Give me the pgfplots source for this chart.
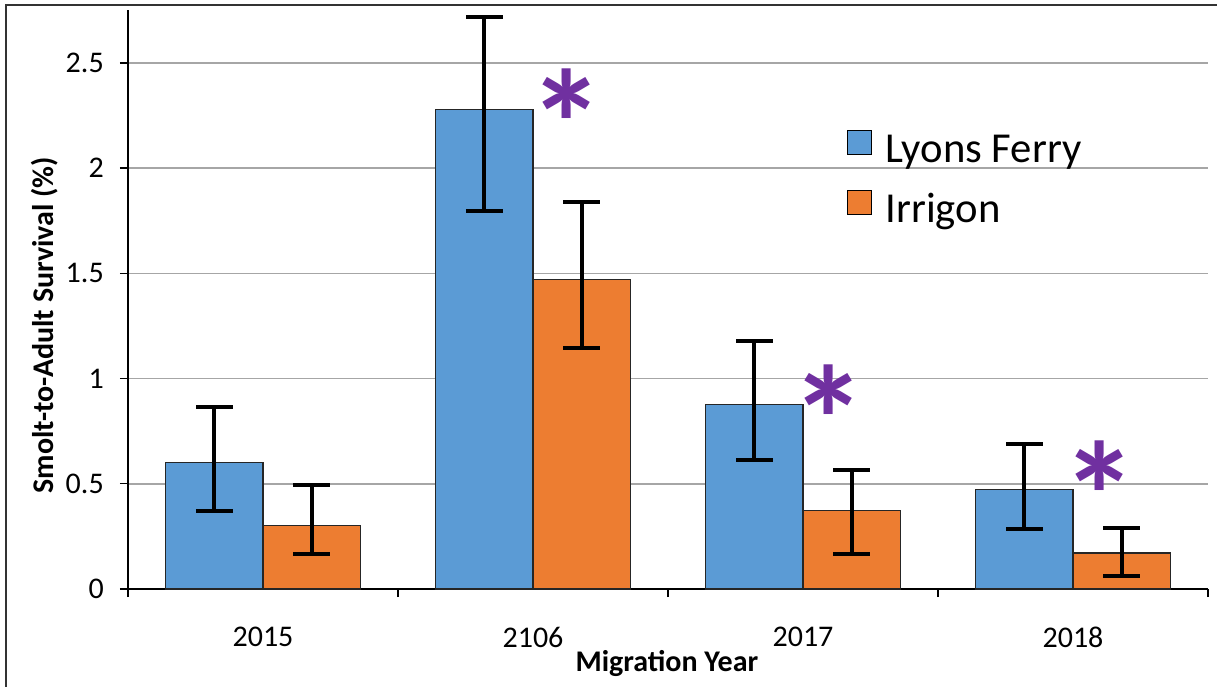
\documentclass[border=0pt]{standalone}
\usepackage{pgfplots}
\usepackage{pgfplotstable}
\usepackage{fontspec}
\setmainfont{Carlito}
\pgfplotsset{compat=1.18}
\definecolor{lfblue}{HTML}{5B9BD5}
\definecolor{irorange}{HTML}{ED7D31}
\definecolor{starpurple}{HTML}{7030A0}
\definecolor{gridgray}{HTML}{A6A6A6}
\pgfplotstableread{
x y ep em
0 0.600 0.265 0.229
1 2.277 0.443 0.480
2 0.875 0.305 0.262
3 0.475 0.215 0.190
}\lyons
\pgfplotstableread{
x y ep em
0 0.300 0.194 0.134
1 1.473 0.367 0.328
2 0.371 0.195 0.205
3 0.171 0.119 0.109
}\irrigon
\begin{document}
\begin{tikzpicture}
\begin{axis}[
  at={(0pt,0pt)}, anchor=south west,
  scale only axis, width=810pt, height=434pt,
  ybar=0pt, bar width=0.36,
  xmin=-0.5, xmax=3.5, ymin=0, ymax=2.75,
  xtick={0,1,2,3}, xticklabels={2015,2106,2017,2018},
  minor xtick={-0.5,0.5,1.5,2.5,3.5},
  ytick={0,0.5,1,1.5,2,2.5},
  yticklabels={0,0.5,1,1.5,2,2.5},
  axis x line*=bottom, axis y line*=left,
  axis line style={-, black, line width=1pt},
  tick align=outside,
  major tick length=6pt, minor tick length=6pt,
  major x tick style={draw=none},
  tick style={black, line width=1pt},
  ymajorgrids, grid style={gridgray, line width=1.2pt},
  /pgf/number format/assume math mode=true,
  tick label style={font=\fontsize{22.5}{26}\selectfont},
  xticklabel style={anchor=center, yshift=-30pt},
  yticklabel style={anchor=east, inner sep=0pt, xshift=-12pt},
  xlabel={\textbf{Migration Year}},
  ylabel={\textbf{Smolt-to-Adult Survival (\%)}},
  label style={font=\fontsize{22.5}{26}\selectfont},
  xlabel style={at={(axis description cs:0.499,-0.1295)}, anchor=center},
  ylabel style={at={(axis description cs:-0.0769,0.456)}, anchor=center, rotate=0},
  legend style={draw=none, fill=none, inner sep=0pt,
    at={(axis description cs:0.6657,0.7932)}, anchor=north west,
    font=\fontsize{32}{38}\selectfont,
    nodes={inner sep=0pt, text height=18pt, text depth=7pt},
    row sep=14pt,
    /tikz/every odd column/.append style={column sep=10pt}},
  legend cell align=left,
  legend image code/.code={\draw[#1, draw=black, line width=0.8pt] (0pt,0pt) rectangle (18pt,18pt);},
  error bars/error bar style={line width=3pt, black},
  error bars/error mark options={rotate=90, mark size=13.75pt, line width=3pt, black},
]
\addplot[fill=lfblue, draw=black!85, line width=0.8pt,
  error bars/.cd, y dir=both, y explicit]
  table[x=x, y=y, y error plus=ep, y error minus=em]{\lyons};
\addplot[fill=irorange, draw=black!85, line width=0.8pt,
  error bars/.cd, y dir=both, y explicit]
  table[x=x, y=y, y error plus=ep, y error minus=em]{\irrigon};
\legend{Lyons Ferry, Irrigon}
\node[text=starpurple, font=\fontsize{115}{125}\selectfont\bfseries, anchor=base, inner sep=0pt] at (axis cs:1.125,1.949) {*};
\node[text=starpurple, font=\fontsize{115}{125}\selectfont\bfseries, anchor=base, inner sep=0pt] at (axis cs:2.096,0.542) {*};
\node[text=starpurple, font=\fontsize{115}{125}\selectfont\bfseries, anchor=base, inner sep=0pt] at (axis cs:3.10,0.181) {*};
\end{axis}
\draw[black!80, line width=1.5pt] (-91.5pt,-80pt) -- (-91.5pt,438pt) -- (830pt,438pt);
\pgfresetboundingbox
\path[use as bounding box] (-96pt,-72.75pt) rectangle (816.75pt,441.75pt);
\end{tikzpicture}
\end{document}
